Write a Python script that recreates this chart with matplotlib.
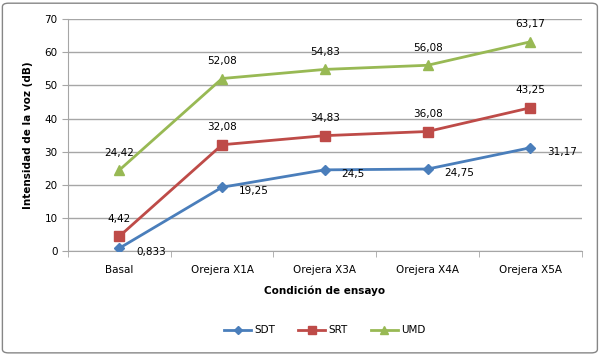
import numpy as np
import matplotlib
matplotlib.use("Agg")
import matplotlib.pyplot as plt
from matplotlib.patches import FancyBboxPatch

categories = ["Basal", "Orejera X1A", "Orejera X3A", "Orejera X4A", "Orejera X5A"]
sdt = [0.833, 19.25, 24.5, 24.75, 31.17]
srt = [4.42, 32.08, 34.83, 36.08, 43.25]
umd = [24.42, 52.08, 54.83, 56.08, 63.17]
sdt_labels = ["0,833", "19,25", "24,5", "24,75", "31,17"]
srt_labels = ["4,42", "32,08", "34,83", "36,08", "43,25"]
umd_labels = ["24,42", "52,08", "54,83", "56,08", "63,17"]

plt.rcParams["font.family"] = "DejaVu Sans"
fig = plt.figure(figsize=(6.01, 3.55), dpi=100)
ax = fig.add_axes([0.113, 0.293, 0.855, 0.653])

x = np.arange(len(categories))
grid_c = "#a6a6a6"
ax.plot(x, sdt, "-D", color="#4a7ebb", lw=2, ms=5, label="SDT", zorder=3)
ax.plot(x, srt, "-s", color="#be4b48", lw=2, ms=7, label="SRT", zorder=3)
ax.plot(x, umd, "-^", color="#98b954", lw=2, ms=7, label="UMD", zorder=3)

fs = 7.5
for xi, v, t in zip(x, sdt, sdt_labels):
    ax.annotate(t, (xi, v), xytext=(12, -3), textcoords="offset points",
                ha="left", va="center", fontsize=fs)
for xi, v, t in zip(x, srt, srt_labels):
    ax.annotate(t, (xi, v), xytext=(0, 9), textcoords="offset points",
                ha="center", va="bottom", fontsize=fs)
for xi, v, t in zip(x, umd, umd_labels):
    ax.annotate(t, (xi, v), xytext=(0, 9), textcoords="offset points",
                ha="center", va="bottom", fontsize=fs)

ax.set_xlim(-0.5, len(categories) - 0.5)
ax.set_ylim(0, 70)
ax.set_yticks(range(0, 71, 10))
ax.set_xticks(x)
ax.set_xticklabels(categories, fontsize=fs)
ax.set_xticks(np.arange(-0.5, len(categories), 1), minor=True)
ax.tick_params(axis="x", which="major", length=0, pad=10)
ax.tick_params(axis="x", which="minor", length=4, color=grid_c)
ax.tick_params(axis="y", labelsize=fs, length=4, color=grid_c)
ax.yaxis.grid(True, color=grid_c, lw=1)
ax.set_axisbelow(True)
for s in ["top", "right"]:
    ax.spines[s].set_visible(False)
for s in ["left", "bottom"]:
    ax.spines[s].set_color(grid_c)

ax.set_xlabel("Condición de ensayo", fontsize=fs, fontweight="bold", labelpad=8)
ax.set_ylabel("Intensidad de la voz (dB)", fontsize=fs, fontweight="bold", labelpad=8)

ax.legend(loc="upper center", bbox_to_anchor=(0.5, -0.28), ncol=3, frameon=False,
          fontsize=fs, handlelength=2.6, handletextpad=0.3, columnspacing=2.2,
          markerscale=0.75)

border = FancyBboxPatch((0.004, 0.006), 0.99, 0.985, boxstyle="round,pad=0,rounding_size=0.01",
                        transform=fig.transFigure, fill=False, edgecolor="#868686", lw=1)
fig.patches.append(border)

fig.savefig("out.png", dpi=100)
